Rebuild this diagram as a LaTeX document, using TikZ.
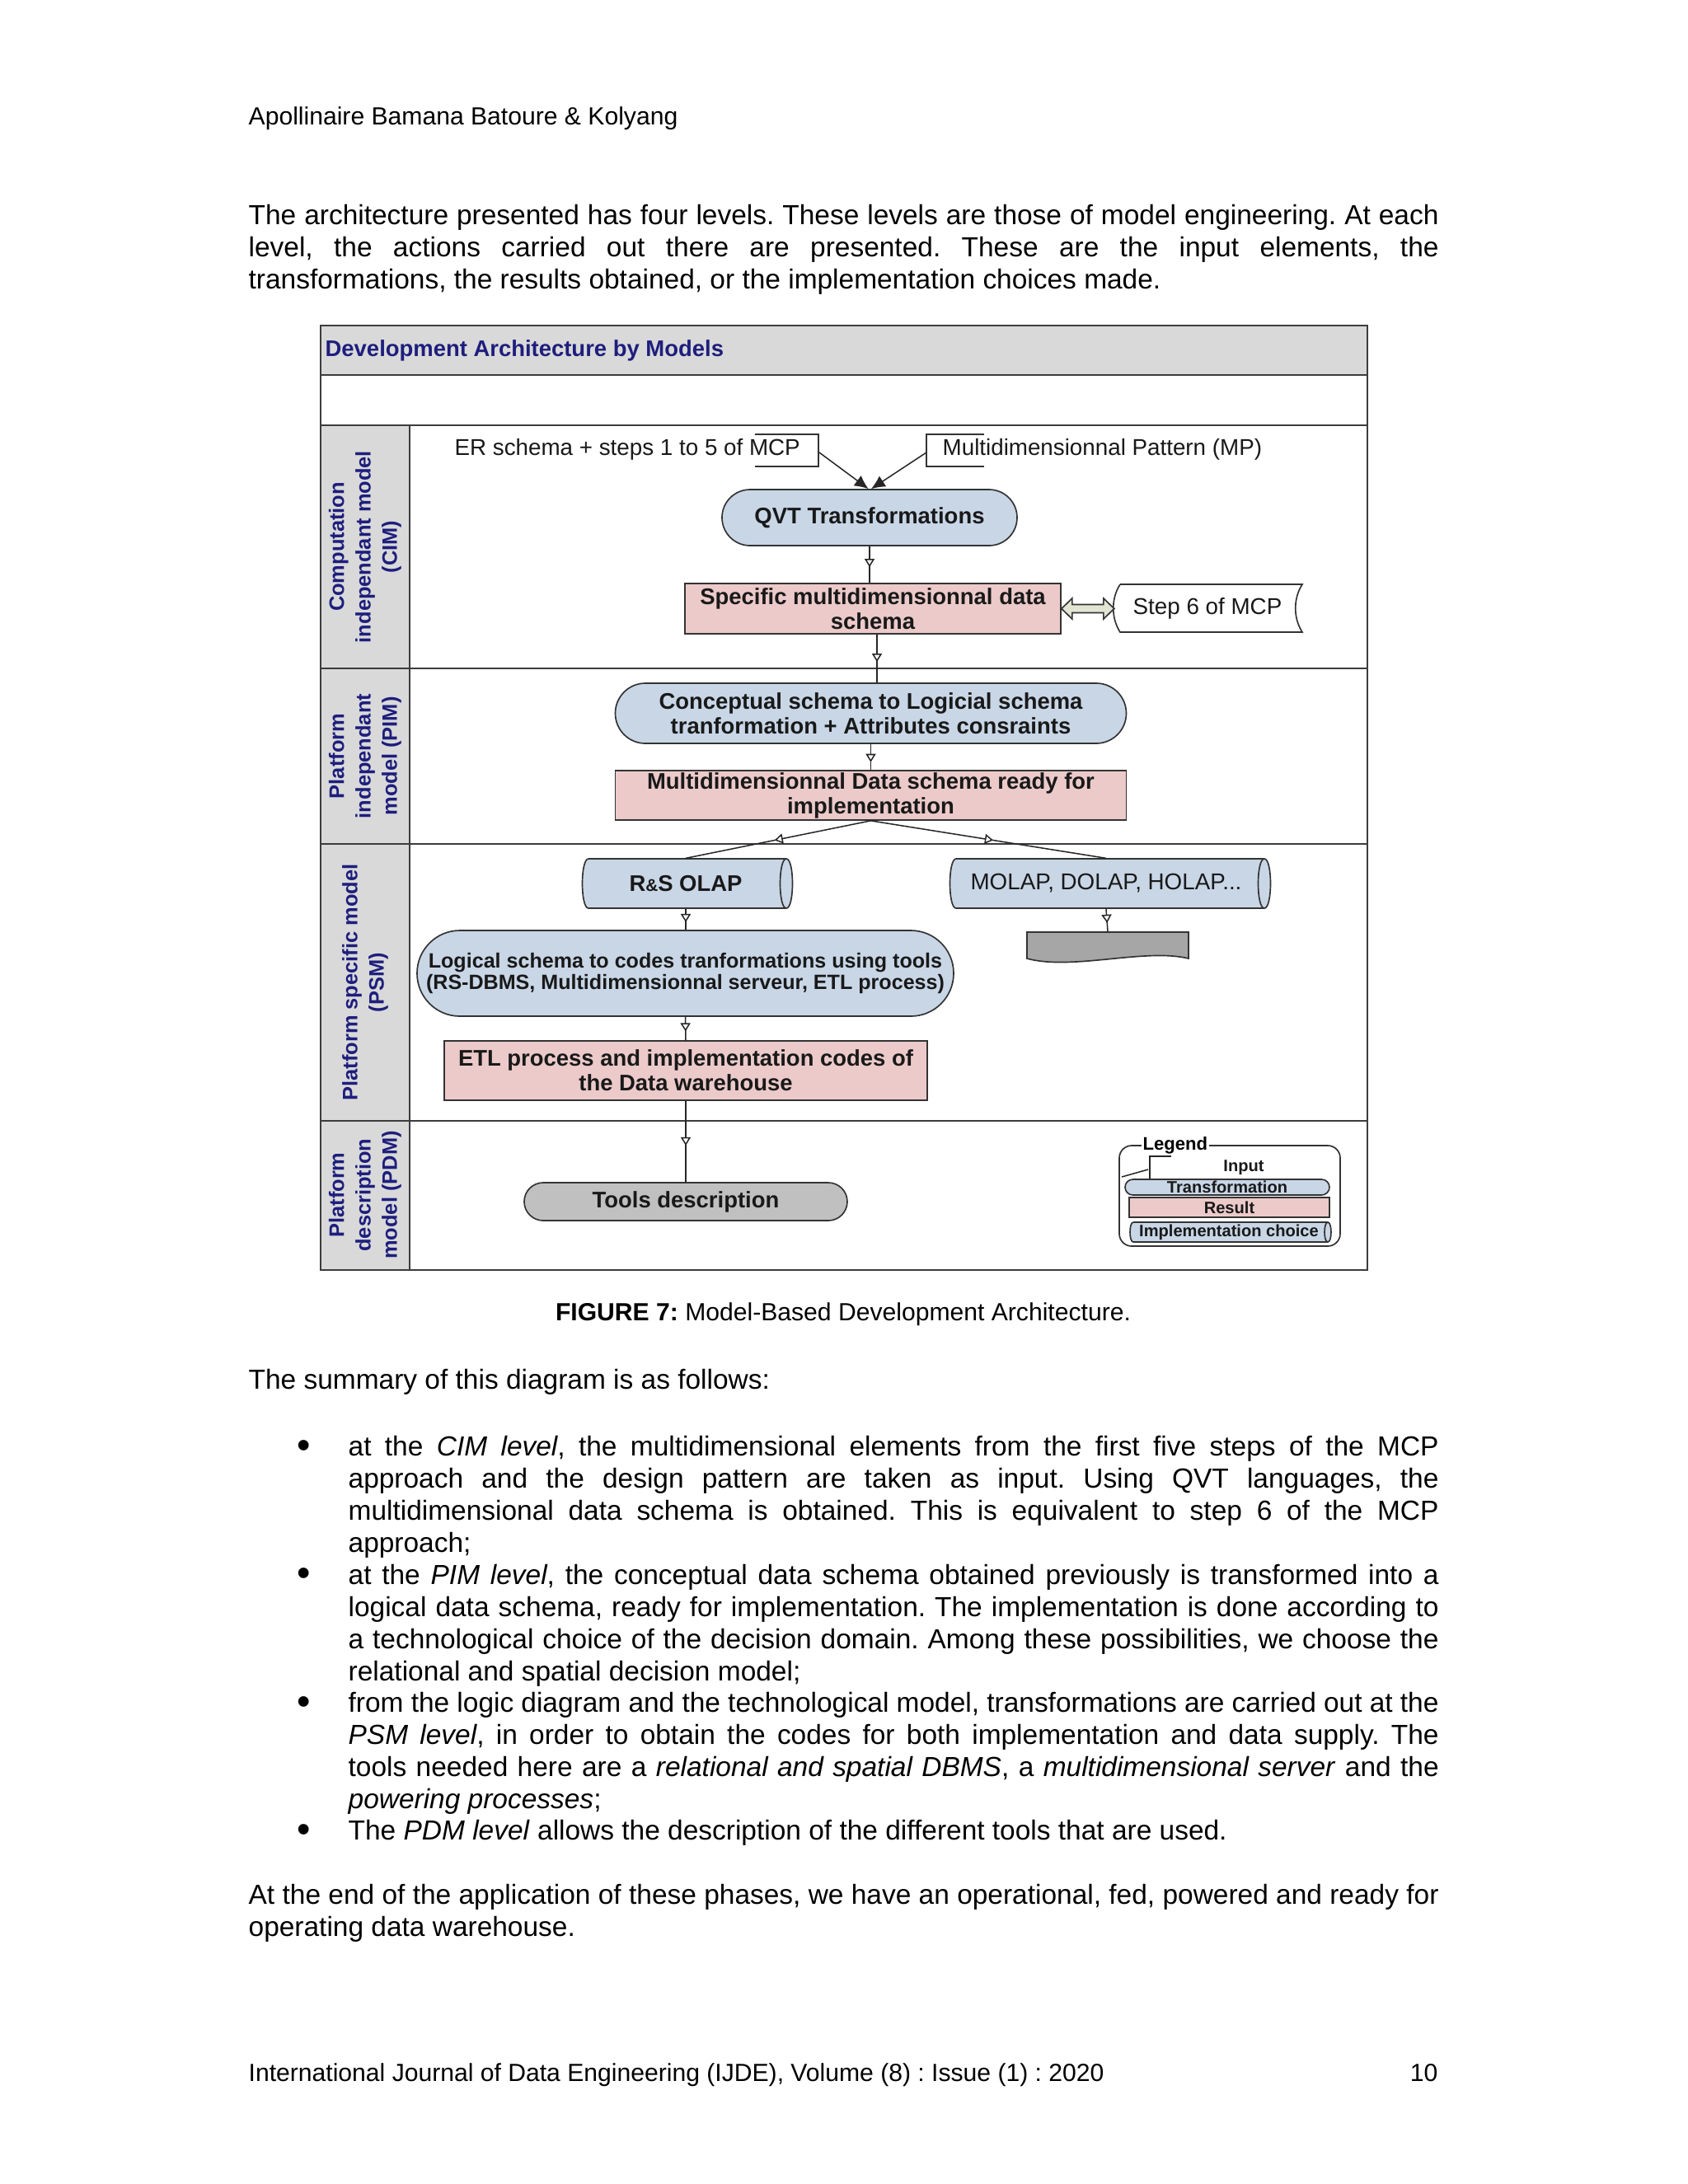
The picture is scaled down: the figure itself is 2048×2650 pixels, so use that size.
\documentclass[tikz,border=0pt]{standalone}
\usepackage{fontspec}
\setmainfont{Liberation Sans}
\frenchspacing
\usetikzlibrary{arrows.meta,decorations.markings,calc}
\definecolor{navy}{RGB}{30,30,125}
\definecolor{bandgray}{RGB}{217,217,217}
\definecolor{boxblue}{RGB}{200,214,230}
\definecolor{boxpink}{RGB}{236,202,202}
\definecolor{arrowfill}{RGB}{226,229,212}
\definecolor{docgray}{RGB}{166,166,166}
\definecolor{toolgray}{RGB}{192,192,192}
\definecolor{framecol}{RGB}{60,60,60}
\tikzset{
  sz/.style 2 args={minimum width=#1*0.298828pt, minimum height=#2*0.298828pt},
  btxt/.style={font=\fontsize{8.2}{9}\selectfont\bfseries, align=center, text=black!90},
  rtxt/.style={font=\fontsize{8.3}{9}\selectfont, align=center, text=black!90},
  ltxt/.style={font=\fontsize{6}{6.5}\selectfont\bfseries, align=center, text=black!90},
  stadium/.style={draw=black!80, line width=0.5pt, fill=boxblue, inner sep=0pt},
  rectbox/.style={draw=black!80, line width=0.5pt, fill=boxpink, inner sep=0pt},
  shapeline/.style={draw=black!80, line width=0.5pt},
  conn/.style={draw=black!85, line width=0.45pt},
  midarr/.style={postaction={decorate}, decoration={markings, mark=at position #1 with {\arrow{Triangle[fill=white,length=3pt,width=3.6pt]}}}},
  lane/.style={rotate=90, align=center, font=\fontsize{7.6}{9.6}\selectfont\bfseries, text=navy, inner sep=0pt},
  para/.style={inner sep=0pt, anchor=north west, text width=#1, align=justify, font=\fontsize{10}{11.63}\selectfont},
  pline/.style={inner sep=0pt, anchor=base west, font=\fontsize{10}{11.63}\selectfont},
  sline/.style={inner sep=0pt, anchor=base west, font=\fontsize{9}{10.5}\selectfont},
  bul/.style={inner sep=0pt, anchor=base west, font=\fontsize{14}{14}\selectfont},
}
\begin{document}
\begin{tikzpicture}[x=0.298828pt,y=-0.298828pt]
\useasboundingbox (0,0) rectangle (2048,2650);
\fill[white] (0,0) rectangle (2048,2650);

% ---------- page text ----------
\node[sline] (hdr) at (301,151) {Apollinaire Bamana Batoure \& Kolyang};

\node[para=431.5pt] (p1) at (301,244.8) {\strut The architecture presented has four levels. These levels are those of model engineering. At each\linebreak level, the actions carried out there are presented. These are the input elements, the\linebreak transformations, the results obtained, or the implementation choices made.};

\node[inner sep=0pt, anchor=base, font=\fontsize{9}{10.5}\selectfont] (cap) at (1023,1602) {\textbf{FIGURE 7:} Model-Based Development Architecture.};

\node[pline] (summ) at (301,1685) {The summary of this diagram is as follows:};

\node[bul] (b1) at (360,1769) {•};
\node[para=395.35pt] (i1) at (422,1738.8) {\strut at the \textit{CIM level}, the multidimensional elements from the first five steps of the MCP\linebreak approach and the design pattern are taken as input. Using QVT languages, the\linebreak multidimensional data schema is obtained. This is equivalent to step 6 of the MCP\linebreak approach;};
\node[bul] (b2) at (360,1924.6) {•};
\node[para=395.35pt] (i2) at (422,1894.4) {\strut at the \textit{PIM level}, the conceptual data schema obtained previously is transformed into a\linebreak logical data schema, ready for implementation. The implementation is done according to\linebreak a technological choice of the decision domain. Among these possibilities, we choose the\linebreak relational and spatial decision model;};
\node[bul] (b3) at (360,2080.2) {•};
\node[para=395.35pt] (i3) at (422,2050) {\strut from the logic diagram and the technological model, transformations are carried out at the\linebreak \textit{PSM level}, in order to obtain the codes for both implementation and data supply. The\linebreak tools needed here are a \textit{relational and spatial DBMS}, a \textit{multidimensional server} and the\linebreak \textit{powering processes};};
\node[bul] (b4) at (360,2235.8) {•};
\node[pline] (i4) at (422,2232.8) {The \textit{PDM level} allows the description of the different tools that are used.};

\node[para=431.5pt] (p2) at (301,2282.8) {\strut At the end of the application of these phases, we have an operational, fed, powered and ready for\linebreak operating data warehouse.};

\node[sline] (foot) at (301,2525) {International Journal of Data Engineering (IJDE), Volume (8) : Issue (1) : 2020};
\node[inner sep=0pt, anchor=base east, font=\fontsize{9}{10.5}\selectfont] (pg) at (1745,2525) {10};

% ---------- diagram frame ----------
\fill[bandgray] (389,395) rectangle (1659,455);
\fill[bandgray] (389,516) rectangle (497,1541);
\draw[framecol, line width=0.7pt] (389,395) rectangle (1659,1541);
\draw[framecol, line width=0.7pt] (389,455) -- (1659,455) (389,516) -- (1659,516)
  (389,811) -- (1659,811) (389,1024) -- (1659,1024) (389,1360) -- (1659,1360)
  (497,516) -- (497,1541);

\node[anchor=west, inner sep=0pt, font=\fontsize{8.2}{9}\selectfont\bfseries, text=navy] (title) at (394,425) {Development Architecture by Models};

\node[lane] (cim) at (443,663.5) {Computation\\independant model\\(CIM)};
\node[lane] (pim) at (443,917.5) {Platform\\independant\\model (PIM)};
\node[lane] (psm) at (443,1192) {Platform specific model\\(PSM)};
\node[lane] (pdm) at (443,1450) {Platform\\description\\model (PDM)};

% ---------- CIM ----------
\node[rtxt, anchor=west, inner sep=0pt] (er) at (551,545) {ER schema + steps 1 to 5 of MCP};
\draw[shapeline] (916,527) -- (993,527) -- (993,566) -- (916,566);
\coordinate (erb) at (994,549);
\node[rtxt, anchor=west, inner sep=0pt] (mp) at (1143,545) {Multidimensionnal Pattern (MP)};
\draw[shapeline] (1194,527) -- (1124,527) -- (1124,566) -- (1194,566);
\coordinate (mpb) at (1124,549);

\node[stadium, rounded corners=10.16pt, sz={358}{68}, btxt] (qvt) at (1055,628) {QVT Transformations};
\draw[conn, -{Latex[length=5pt,width=4.6pt]}] (erb) -- ([xshift=-0.4pt]qvt.north);
\draw[conn, -{Latex[length=5pt,width=4.6pt]}] (mpb) -- ([xshift=0.6pt]qvt.north);

\node[rectbox, sz={456}{61}, btxt] (spec) at (1059,738.5) {Specific multidimensionnal data\\schema};
\draw[conn, midarr=0.57] (qvt.south) -- (qvt.south |- spec.north);

\draw[shapeline, fill=white] (1359,709) -- (1580,709) .. controls (1569,726) and (1569,750) .. (1580,767) -- (1359,767) .. controls (1348,750) and (1348,726) .. (1359,709);
\node[rtxt, sz={221}{58}, inner sep=0pt] (step6) at (1465,738) {Step 6 of MCP};
\draw[shapeline, fill=arrowfill] (spec.east) -- ++(13,-12.5) -- ++(0,7.5) -- ++(38,0) -- ++(0,-7.5) -- ++(13,12.5) -- ++(-13,12.5) -- ++(0,-7.5) -- ++(-38,0) -- ++(0,7.5) -- cycle;

% ---------- PIM ----------
\node[stadium, rounded corners=10.9pt, sz={620}{73}, btxt] (concept) at (1056.5,865.5) {Conceptual schema to Logicial schema\\tranformation + Attributes consraints};
\coordinate (s1) at ([xshift=1.5pt]spec.south);
\draw[conn, midarr=0.57] (s1) -- (s1 |- concept.north);

\node[rectbox, sz={620}{60}, btxt] (multi) at (1056.5,965) {Multidimensionnal Data schema ready for\\implementation};
\draw[conn, midarr=0.7] (concept.south) -- (multi.north);

% ---------- PSM ----------
\draw[shapeline, fill=boxblue] (714,1042) -- (954,1042) .. controls (964,1042) and (964,1102) .. (954,1102) -- (714,1102) .. controls (704,1102) and (704,1042) .. (714,1042);
\draw[shapeline] (954,1042) .. controls (944,1042) and (944,1102) .. (954,1102);
\node[btxt, sz={240}{60}, inner sep=0pt] (rs) at (832,1072) {R{\fontsize{6.2}{6.2}\selectfont\&}S OLAP};

\draw[shapeline, fill=boxblue] (1160,1042) -- (1534,1042) .. controls (1544,1042) and (1544,1102) .. (1534,1102) -- (1160,1102) .. controls (1150,1102) and (1150,1042) .. (1160,1042);
\draw[shapeline] (1534,1042) .. controls (1524,1042) and (1524,1102) .. (1534,1102);
\node[rtxt, sz={374}{60}, inner sep=0pt] (molap) at (1342,1072) {MOLAP, DOLAP, HOLAP...};

\draw[conn, midarr=0.52] (multi.south) -- (rs.north);
\draw[conn, midarr=0.52] (multi.south) -- (molap.north);

\draw[shapeline, fill=docgray] (1246,1131) -- (1442,1131) -- (1442,1163) .. controls (1390,1150) and (1300,1178) .. (1246,1163) -- cycle;
\node[sz={196}{32}, inner sep=0pt] (doc) at (1344,1147) {};
\draw[conn, midarr=0.62] (molap.south) -- (doc.north);

\node[stadium, rounded corners=15.5pt, sz={651}{104}, font=\fontsize{7.5}{8}\selectfont\bfseries, align=center, text=black!90] (logical) at (831.5,1181) {Logical schema to codes tranformations using tools\\(RS-DBMS, Multidimensionnal serveur, ETL process)};
\draw[conn, midarr=0.64] (rs.south) -- (rs.south |- logical.north);

\node[rectbox, sz={586}{72}, btxt] (etl) at (832,1299) {ETL process and implementation codes of\\the Data warehouse};
\draw[conn, midarr=0.62] (logical.south) -- (etl.north);

% ---------- PDM ----------
\node[stadium, fill=toolgray, rounded corners=6.87pt, sz={392}{46}, btxt] (tools) at (832,1458) {Tools description};
\draw[conn, midarr=0.55] (etl.south) -- (tools.north);

% ---------- legend ----------
\draw[shapeline, rounded corners=4.5pt] (1358,1390) rectangle (1626,1512);
\node[fill=white, inner xsep=0.6pt, inner ysep=0pt, anchor=west, font=\fontsize{6.6}{7}\selectfont\bfseries] (legtitle) at (1384,1390) {Legend};
\node[ltxt, inner sep=0pt] (leginput) at (1509,1417) {Input};
\draw[conn] (1421,1403) -- (1395,1403) -- (1395,1430);
\draw[conn] (1361,1428) -- (1393,1419);
\node[stadium, rounded corners=2.84pt, sz={248}{19}, ltxt] (legtrans) at (1489,1440.5) {Transformation};
\node[rectbox, sz={243}{24}, ltxt] (legres) at (1491.5,1465) {Result};
\draw[shapeline, fill=boxblue] (1375,1483) -- (1611,1483) .. controls (1616.3,1483) and (1616.3,1507) .. (1611,1507) -- (1375,1507) .. controls (1369.7,1507) and (1369.7,1483) .. (1375,1483);
\draw[shapeline] (1611,1483) .. controls (1605.7,1483) and (1605.7,1507) .. (1611,1507);
\node[ltxt, sz={236}{24}, inner sep=0pt] (legimpl) at (1491,1495) {Implementation choice};
\end{tikzpicture}
\end{document}
